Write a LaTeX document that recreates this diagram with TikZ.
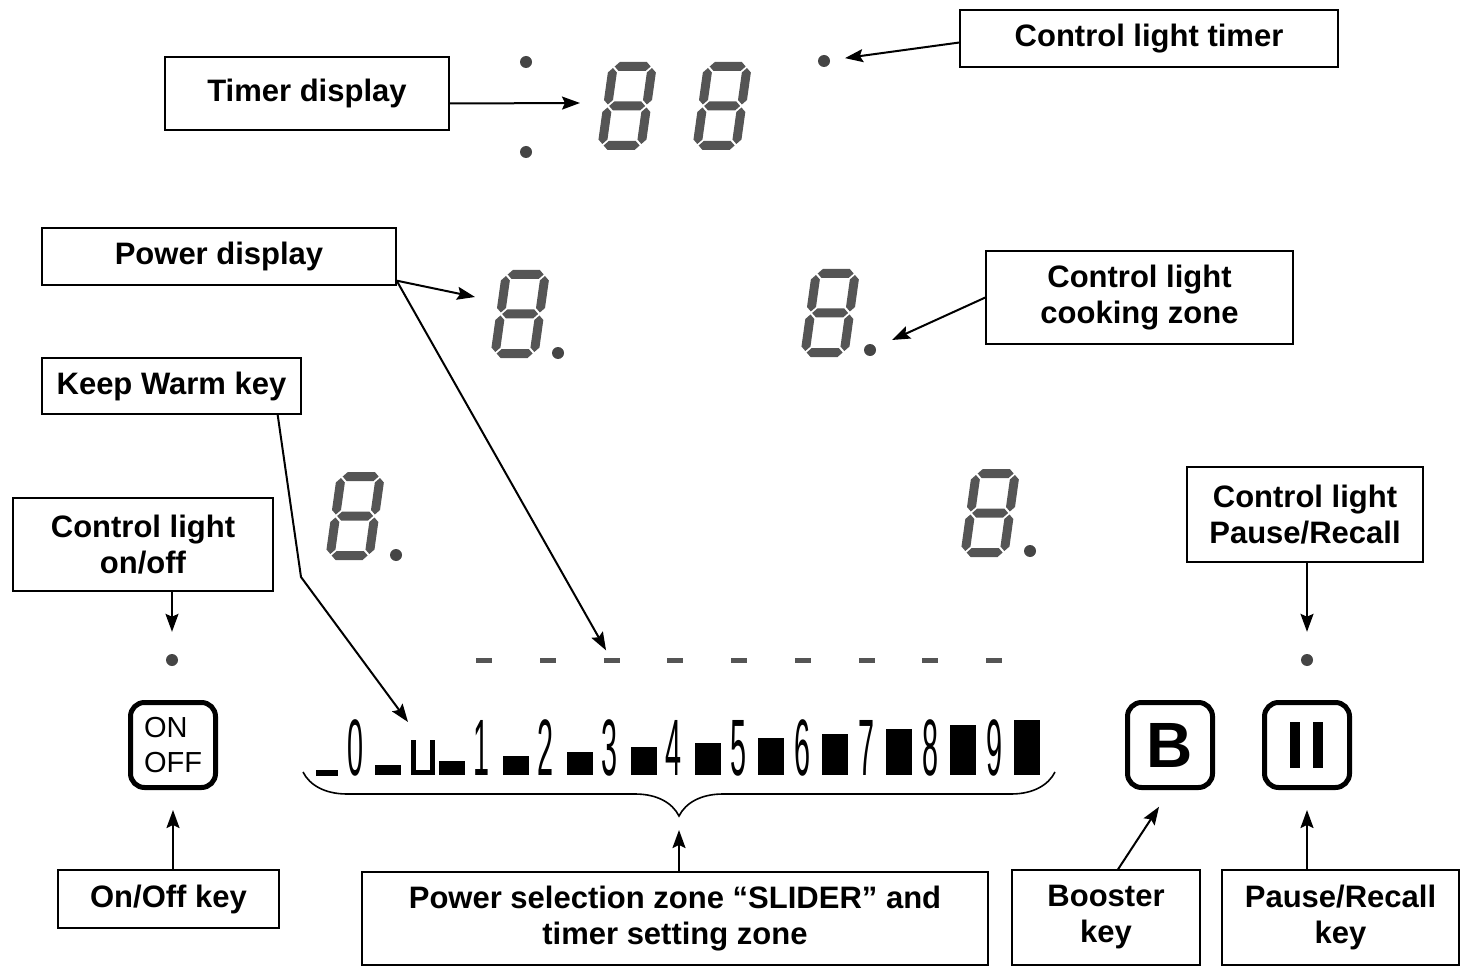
\documentclass[tikz,border=0pt]{standalone}
\usepackage{fontspec}
\setmainfont{Liberation Sans}
\usepackage{graphicx}
\usetikzlibrary{arrows.meta, positioning, decorations.pathreplacing}
\definecolor{segGrey}{HTML}{555555}
\definecolor{dotGrey}{HTML}{454545}

% one slanted segment, horizontal or vertical
\newcommand\hseg[3]{\fill[segGrey] (#1,#3) -- ({#1+4.5},{#3+4.5}) -- ({#2-4.5},{#3+4.5}) -- (#2,#3) -- ({#2-4.5},{#3-4.5}) -- ({#1+4.5},{#3-4.5}) -- cycle;}
\newcommand\vseg[3]{\fill[segGrey] (#1,#2) -- ({#1+4.5},{#2+4.5}) -- ({#1+4.5},{#3-4.5}) -- (#1,#3) -- ({#1-4.5},{#3-4.5}) -- ({#1-4.5},{#2+4.5}) -- cycle;}
% a full "8" with its lower left corner at #1,#2
\newcommand\segdigit[2]{%
  \begin{scope}[shift={(#1,#2)}, yscale=-1, xslant=-0.14]
    \hseg{6}{42}{4.5}\hseg{6}{42}{44}\hseg{6}{42}{83.5}
    \vseg{4.5}{6}{42.5}\vseg{4.5}{45.5}{82}
    \vseg{43.5}{6}{42.5}\vseg{43.5}{45.5}{82}
  \end{scope}}
\newcommand\slidernum[1]{\scalebox{0.36}[1]{\fontsize{80}{80}\selectfont #1}}

\begin{document}
\begin{tikzpicture}[x=1pt, y=-1pt,
  labelbox/.style={draw, line width=1.3pt, inner sep=0pt, align=center,
               font=\fontsize{31}{36}\selectfont\bfseries},
  arr/.style={-{Stealth[length=18pt, width=13pt, inset=3pt]}, line width=2pt},
  leddot/.style={circle, fill=dotGrey, inner sep=0pt, minimum size=12pt},
  dashseg/.style={rectangle, fill=segGrey, inner sep=0pt, minimum width=16pt, minimum height=5pt},
  keybox/.style={draw, line width=5pt, rounded corners=14pt, minimum size=85pt, inner sep=0pt},
  sliderdigit/.style={inner sep=0pt, anchor=base}
]
  \useasboundingbox (0,0) rectangle (1467,968);

  % labels
  \node[labelbox, minimum width=284pt, minimum height=73pt] (timer) at (307,93.5) {Timer display};
  \node[labelbox, minimum width=378pt, minimum height=57pt] (cltimer) at (1149,38.5) {Control light timer};
  \node[labelbox, minimum width=354pt, minimum height=57pt] (pwr) at (219,256.5) {Power display};
  \node[labelbox, minimum width=307pt, minimum height=93pt] (clcook) at (1139.5,297.5) {Control light\\cooking zone};
  \node[labelbox, minimum width=259pt, minimum height=56pt] (kw) at (171.5,386) {Keep Warm key};
  \node[labelbox, minimum width=260pt, minimum height=93pt] (clon) at (143,544.5) {Control light\\on/off};
  \node[labelbox, minimum width=236pt, minimum height=95pt] (clpause) at (1305,514.5) {Control light\\Pause/Recall};
  \node[labelbox, minimum width=221pt, minimum height=58pt] (onoff) at (168.5,899) {On/Off key};
  \node[labelbox, minimum width=626pt, minimum height=93pt] (slider) at (675,918.5) {Power selection zone “SLIDER” and\\timer setting zone};
  \node[labelbox, minimum width=188pt, minimum height=95pt] (booster) at (1106,917.5) {Booster\\key};
  \node[labelbox, minimum width=237pt, minimum height=95pt] (pausekey) at (1340.5,917.5) {Pause/Recall\\key};

  % timer display
  \node[leddot] (tdot1) at (526,62) {};
  \node[leddot] (tdot2) at (526,152) {};
  \segdigit{597}{150}
  \segdigit{692}{150}
  \node[leddot] (tdot3) at (824,61) {};

  % cooking zone displays
  \segdigit{490}{358}
  \node[leddot] (cdot1) at (558,353) {};
  \segdigit{800}{357}
  \node[leddot] (cdot2) at (870,350) {};
  \segdigit{325}{560}
  \node[leddot] (cdot3) at (396,555) {};
  \segdigit{960}{557}
  \node[leddot] (cdot4) at (1030,551) {};

  % slider lights
  \foreach \i in {1,...,9}
    \node[dashseg] (d\i) at ({484+63.75*(\i-1)},660) {};
  \node[leddot] (ondot) at (172,660) {};
  \node[leddot] (pdot) at (1307,660) {};

  % keys
  \node[keybox, align=left, font=\fontsize{29}{35}\selectfont] (onbtn) at (173,745) {ON\\OFF};
  \node[keybox, font=\fontsize{64}{64}\selectfont\bfseries] (bkey) at (1170,745) {B};
  \node[keybox] (pkey) at (1307,745) {};
  \fill (1290,722) rectangle (1300,768);
  \fill (1313,722) rectangle (1323,768);

  % slider
  \fill (316,770) rectangle (338,776);
  \node[sliderdigit] (s0) at (356,775) {\slidernum{0}};
  \draw[line width=5pt] (413,740) -- (413,772.5) -- (432,772.5) -- (432,740);
  \foreach \i in {0,...,10}
    \fill ({375+63.9*\i},775) rectangle ++(26,{-(10+4.5*\i)});
  \foreach \n in {1,...,9}
    \node[sliderdigit] (s\n) at ({482+64*(\n-1)},775) {\slidernum{\n}};
  \draw[line width=1.6pt, decorate, decoration={brace, mirror, amplitude=44pt}] (303,772) -- (1055,772);

  \coordinate (tdigit) at (580,103);
  \coordinate (pdigit) at (475,297);
  \coordinate (kwbend) at (301,577);
  \coordinate (kwtip) at (408,722);
  \coordinate (bracetip) at (679,816);

  % connectors
  \draw[arr] ([yshift=-10pt]timer.east) -- (tdigit);
  \draw[arr, shorten >=15pt] ([yshift=-4pt]cltimer.west) -- (tdot3);
  \draw[arr] ([yshift=5pt]pwr.south east) -- (pdigit);
  \draw[arr, shorten >=8pt] ([yshift=5pt]pwr.south east) -- (d3);
  \draw[arr, shorten >=18pt] (clcook.west) -- (cdot2);
  \draw[arr] ([xshift=-24pt]kw.south east) -- (kwbend) -- (kwtip);
  \draw[arr, shorten >=22pt] (clon.south -| ondot) -- (ondot);
  \draw[arr, shorten >=22pt] (clpause.south -| pdot) -- (pdot);
  \draw[arr, shorten >=20pt] (onoff.north -| onbtn) -- (onbtn);
  \draw[arr, shorten >=14pt] (slider.north -| bracetip) -- (bracetip);
  \draw[arr, shorten >=20pt] ([xshift=12pt]booster.north) -- (bkey.south);
  \draw[arr, shorten >=20pt] (pausekey.north -| pkey) -- (pkey);
\end{tikzpicture}
\end{document}
